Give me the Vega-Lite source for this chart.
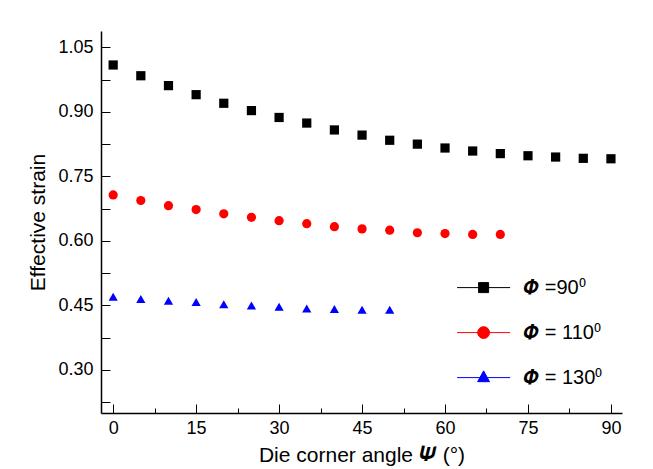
{
  "$schema": "https://vega.github.io/schema/vega-lite/v6.json",
  "width": 521,
  "height": 382,
  "autosize": "none",
  "padding": {"left": 101, "top": 31, "right": 31, "bottom": 56},
  "background": "white",
  "config": {"view": {"stroke": null}, "font": "Liberation Sans"},
  "data": {
    "values": [
      {"psi": 0, "strain": 1.009, "phi": "90", "series": "𝜱 =90⁰"},
      {"psi": 5, "strain": 0.984, "phi": "90", "series": "𝜱 =90⁰"},
      {"psi": 10, "strain": 0.961, "phi": "90", "series": "𝜱 =90⁰"},
      {"psi": 15, "strain": 0.940, "phi": "90", "series": "𝜱 =90⁰"},
      {"psi": 20, "strain": 0.920, "phi": "90", "series": "𝜱 =90⁰"},
      {"psi": 25, "strain": 0.903, "phi": "90", "series": "𝜱 =90⁰"},
      {"psi": 30, "strain": 0.887, "phi": "90", "series": "𝜱 =90⁰"},
      {"psi": 35, "strain": 0.874, "phi": "90", "series": "𝜱 =90⁰"},
      {"psi": 40, "strain": 0.858, "phi": "90", "series": "𝜱 =90⁰"},
      {"psi": 45, "strain": 0.846, "phi": "90", "series": "𝜱 =90⁰"},
      {"psi": 50, "strain": 0.834, "phi": "90", "series": "𝜱 =90⁰"},
      {"psi": 55, "strain": 0.825, "phi": "90", "series": "𝜱 =90⁰"},
      {"psi": 60, "strain": 0.816, "phi": "90", "series": "𝜱 =90⁰"},
      {"psi": 65, "strain": 0.809, "phi": "90", "series": "𝜱 =90⁰"},
      {"psi": 70, "strain": 0.803, "phi": "90", "series": "𝜱 =90⁰"},
      {"psi": 75, "strain": 0.798, "phi": "90", "series": "𝜱 =90⁰"},
      {"psi": 80, "strain": 0.795, "phi": "90", "series": "𝜱 =90⁰"},
      {"psi": 85, "strain": 0.792, "phi": "90", "series": "𝜱 =90⁰"},
      {"psi": 90, "strain": 0.791, "phi": "90", "series": "𝜱 =90⁰"},
      {"psi": 0, "strain": 0.707, "phi": "110", "series": "𝜱 = 110⁰"},
      {"psi": 5, "strain": 0.694, "phi": "110", "series": "𝜱 = 110⁰"},
      {"psi": 10, "strain": 0.682, "phi": "110", "series": "𝜱 = 110⁰"},
      {"psi": 15, "strain": 0.673, "phi": "110", "series": "𝜱 = 110⁰"},
      {"psi": 20, "strain": 0.663, "phi": "110", "series": "𝜱 = 110⁰"},
      {"psi": 25, "strain": 0.655, "phi": "110", "series": "𝜱 = 110⁰"},
      {"psi": 30, "strain": 0.647, "phi": "110", "series": "𝜱 = 110⁰"},
      {"psi": 35, "strain": 0.640, "phi": "110", "series": "𝜱 = 110⁰"},
      {"psi": 40, "strain": 0.633, "phi": "110", "series": "𝜱 = 110⁰"},
      {"psi": 45, "strain": 0.628, "phi": "110", "series": "𝜱 = 110⁰"},
      {"psi": 50, "strain": 0.625, "phi": "110", "series": "𝜱 = 110⁰"},
      {"psi": 55, "strain": 0.619, "phi": "110", "series": "𝜱 = 110⁰"},
      {"psi": 60, "strain": 0.617, "phi": "110", "series": "𝜱 = 110⁰"},
      {"psi": 65, "strain": 0.615, "phi": "110", "series": "𝜱 = 110⁰"},
      {"psi": 70, "strain": 0.615, "phi": "110", "series": "𝜱 = 110⁰"},
      {"psi": 0, "strain": 0.470, "phi": "130", "series": "𝜱 = 130⁰"},
      {"psi": 5, "strain": 0.465, "phi": "130", "series": "𝜱 = 130⁰"},
      {"psi": 10, "strain": 0.461, "phi": "130", "series": "𝜱 = 130⁰"},
      {"psi": 15, "strain": 0.458, "phi": "130", "series": "𝜱 = 130⁰"},
      {"psi": 20, "strain": 0.453, "phi": "130", "series": "𝜱 = 130⁰"},
      {"psi": 25, "strain": 0.450, "phi": "130", "series": "𝜱 = 130⁰"},
      {"psi": 30, "strain": 0.447, "phi": "130", "series": "𝜱 = 130⁰"},
      {"psi": 35, "strain": 0.443, "phi": "130", "series": "𝜱 = 130⁰"},
      {"psi": 40, "strain": 0.442, "phi": "130", "series": "𝜱 = 130⁰"},
      {"psi": 45, "strain": 0.440, "phi": "130", "series": "𝜱 = 130⁰"},
      {"psi": 50, "strain": 0.440, "phi": "130", "series": "𝜱 = 130⁰"}
    ]
  },
  "mark": {"type": "point", "filled": true, "opacity": 1, "size": 85},
  "encoding": {
    "x": {
      "field": "psi",
      "type": "quantitative",
      "scale": {"domain": [-2.2, 92], "nice": false, "zero": false},
      "axis": {
        "values": [0, 7.5, 15, 22.5, 30, 37.5, 45, 52.5, 60, 67.5, 75, 82.5, 90],
        "labelExpr": "round(datum.value/7.5) % 2 == 0 ? format(datum.value, 'd') : ''",
        "tickSize": {"condition": {"test": "round(datum.value/7.5) % 2 == 0", "value": -9}, "value": -5},
        "labelPadding": 15,
        "tickColor": "black",
        "tickWidth": 1,
        "domainColor": "black",
        "domainWidth": 1.5,
        "labelColor": "black",
        "labelFontSize": 18,
        "labelFlush": false,
        "labelOverlap": false,
        "grid": false,
        "title": "Die corner angle 𝜳 (°)",
        "titleFontSize": 21,
        "titleFontWeight": "normal",
        "titleColor": "black",
        "titlePadding": 3
      }
    },
    "y": {
      "field": "strain",
      "type": "quantitative",
      "scale": {"domain": [0.2, 1.088], "nice": false, "zero": false},
      "axis": {
        "values": [0.225, 0.3, 0.375, 0.45, 0.525, 0.6, 0.675, 0.75, 0.825, 0.9, 0.975, 1.05],
        "labelExpr": "round(datum.value/0.075) % 2 == 0 ? format(datum.value, '.2f') : ''",
        "tickSize": -9,
        "labelPadding": 17,
        "tickColor": "black",
        "tickWidth": 1,
        "domainColor": "black",
        "domainWidth": 1.5,
        "labelColor": "black",
        "labelFontSize": 18,
        "labelFlush": false,
        "labelOverlap": false,
        "grid": false,
        "title": "Effective strain",
        "titleFontSize": 21,
        "titleFontWeight": "normal",
        "titleColor": "black",
        "titlePadding": 9
      }
    },
    "color": {
      "field": "series",
      "type": "nominal",
      "scale": {"domain": ["𝜱 =90⁰", "𝜱 = 110⁰", "𝜱 = 130⁰"], "range": ["#000000", "#ff0000", "#0000ff"]},
      "legend": {
        "orient": "none", "legendX": 361.6, "legendY": 235.6, "title": null,
        "symbolType": {"expr": "datum.value == '𝜱 =90⁰' ? 'M-1.3,0H1.3M-0.245,-0.245H0.245V0.245H-0.245Z' : datum.value == '𝜱 = 110⁰' ? 'M-1.3,0H1.3M-0.29,0A0.29,0.29 0 1,0 0.29,0A0.29,0.29 0 1,0 -0.29,0Z' : 'M-1.3,0H1.3M0,-0.33L0.29,0.2H-0.29Z'"},
        "symbolStrokeColor": {"expr": "datum.value == '𝜱 =90⁰' ? '#000000' : datum.value == '𝜱 = 110⁰' ? '#ff0000' : '#0000ff'"},
        "symbolFillColor": {"expr": "datum.value == '𝜱 =90⁰' ? '#000000' : datum.value == '𝜱 = 110⁰' ? '#ff0000' : '#0000ff'"},
        "symbolSize": 1665, "symbolStrokeWidth": 1, "labelFontSize": 20, "labelOffset": 18.6,
        "rowPadding": 14, "padding": 0, "labelColor": "black", "labelFont": "Liberation Sans",
        "encode": {
          "symbols": {
            "update": {
              "fill": {"signal": "datum.value == '𝜱 =90⁰' ? '#000000' : datum.value == '𝜱 = 110⁰' ? '#ff0000' : '#0000ff'"},
              "stroke": {"signal": "datum.value == '𝜱 =90⁰' ? '#000000' : datum.value == '𝜱 = 110⁰' ? '#ff0000' : '#0000ff'"},
              "strokeWidth": {"value": 1},
              "opacity": {"value": 1}
            }
          }
        }
      }
    },
    "shape": {
      "field": "phi",
      "type": "nominal",
      "scale": {"domain": ["90", "110", "130"], "range": ["square", "circle", "triangle-up"]},
      "legend": null
    }
  }
}
